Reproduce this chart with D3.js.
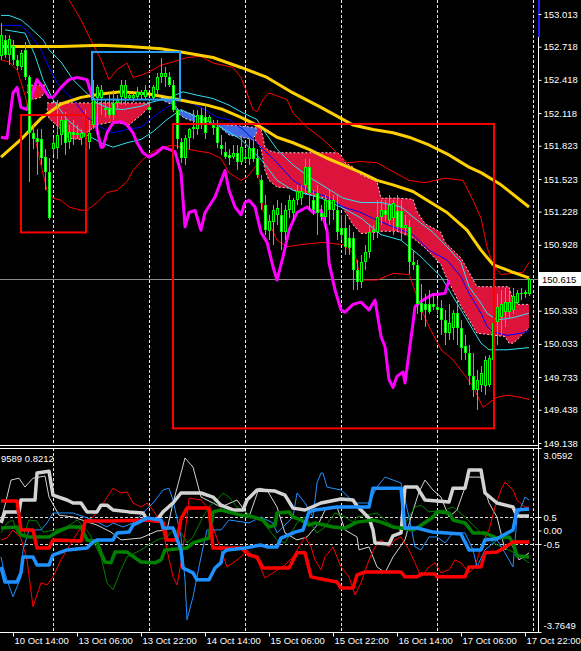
<!DOCTYPE html>
<html><head><meta charset="utf-8">
<script src="https://cdn.jsdelivr.net/npm/d3@7"></script>
<style>
html,body{margin:0;padding:0;background:#000;overflow:hidden}
svg{display:block}
text{font-family:"Liberation Sans",Arial,sans-serif}
</style></head><body>
<svg id="c" width="581" height="651"></svg>
<script>
// ---------- DATA ----------
const timeTickBars = [3,19,35,51,67,83,99,115,131];
const timeTickLabels = ["10 Oct 14:00","13 Oct 06:00","13 Oct 22:00","14 Oct 14:00","15 Oct 06:00","15 Oct 22:00","16 Oct 14:00","17 Oct 06:00","17 Oct 22:00"];
const gridBars = [13,37,61,85,109,133];
const priceTicks = [153.013,152.718,152.418,152.118,151.823,151.523,151.228,150.928,150.333,150.033,149.733,149.438,149.138];
const lastPrice = 150.615;
const subTicks = [3.0592,0.5,0,-0.5,-3.7649];
const subTickLabels = ["3.0592","0.5","0.00","-0.5","-3.7649"];
const subLevels = [0.5,-0.5];
const subTitle = "9589 0.8212";

// candles: [open, high, low, close]
const candles = [
[152.63,152.93,152.60,152.82],[152.78,152.82,152.62,152.64],[152.64,152.82,152.55,152.79],[152.72,152.78,152.55,152.60],
[152.60,152.64,152.51,152.54],[152.53,152.69,152.51,152.66],[152.69,152.76,152.42,152.44],[152.44,152.46,151.50,151.94],
[151.94,152.01,151.79,151.88],[151.89,151.97,151.56,151.86],[151.88,151.97,151.65,151.71],[151.72,151.79,151.42,151.59],
[151.59,151.71,151.15,151.17],[151.79,151.89,151.74,151.85],[151.80,152.24,151.70,151.92],[151.92,152.10,151.83,152.06],
[152.06,152.13,151.74,151.85],[151.86,152.01,151.79,151.95],[151.95,152.06,151.83,151.92],[151.92,152.01,151.88,151.94],
[151.89,151.97,151.83,151.94],[151.94,152.15,151.79,151.90],[151.86,152.06,151.79,151.94],[152.01,152.42,151.97,152.25],
[152.25,152.37,151.92,152.35],[152.25,152.37,152.10,152.33],[152.15,152.24,152.08,152.16],[152.16,152.28,152.07,152.10],
[152.21,152.33,152.06,152.10],[152.21,152.28,152.16,152.24],[152.26,152.42,152.19,152.37],[152.25,152.42,152.19,152.37],
[152.25,152.31,152.24,152.28],[152.25,152.30,152.22,152.28],[152.26,152.35,152.24,152.31],[152.28,152.33,152.24,152.31],
[152.26,152.37,152.24,152.33],[152.17,152.24,152.13,152.15],[152.25,152.37,152.24,152.35],[152.33,152.48,152.28,152.44],
[152.44,152.62,152.39,152.48],[152.44,152.53,152.35,152.48],[152.44,152.49,152.35,152.37],[152.37,152.42,152.13,152.15],
[152.15,152.16,151.79,151.88],[151.86,151.89,151.67,151.71],[151.71,151.92,151.65,151.89],[151.89,151.98,151.79,151.97],
[151.97,152.15,151.88,151.99],[151.97,152.15,151.92,152.10],[152.10,152.16,151.97,152.01],[152.08,152.19,151.88,151.94],
[152.04,152.10,152.01,152.08],[152.01,152.06,151.92,151.98],[151.99,152.06,151.80,151.85],[151.83,151.92,151.74,151.79],
[151.77,151.86,151.70,151.72],[151.74,151.79,151.65,151.71],[151.72,151.83,151.70,151.76],[151.76,151.83,151.60,151.68],
[151.68,151.92,151.65,151.81],[151.72,151.79,151.68,151.70],[151.70,151.88,151.65,151.80],[151.80,151.88,151.68,151.70],
[151.71,151.79,151.53,151.56],[151.51,151.56,151.24,151.31],[151.29,151.38,151.02,151.06],[151.05,151.20,150.97,151.14],
[151.13,151.29,150.93,151.24],[151.20,151.33,151.11,151.26],[151.20,151.31,150.88,151.04],[151.04,151.29,150.97,151.24],
[151.24,151.38,151.17,151.33],[151.22,151.35,151.14,151.33],[151.33,151.47,151.29,151.41],[151.35,151.47,151.29,151.41],
[151.47,151.70,151.38,151.63],[151.63,151.70,151.24,151.40],[151.33,151.42,151.20,151.24],[151.40,151.47,151.02,151.22],
[151.22,151.29,151.14,151.18],[151.18,151.38,151.06,151.33],[151.33,151.42,151.11,151.24],[151.24,151.38,151.15,151.33],
[151.24,151.38,150.97,151.04],[151.08,151.20,150.97,151.02],[151.08,151.20,150.84,150.91],[150.99,151.11,150.84,150.90],
[150.99,151.04,150.52,150.70],[150.70,150.79,150.52,150.59],[150.59,150.84,150.54,150.77],[150.77,150.93,150.70,150.86],
[150.86,151.11,150.81,151.04],[151.04,151.11,150.97,151.06],[151.04,151.33,150.99,151.18],[151.18,151.33,151.11,151.24],
[151.24,151.33,151.14,151.20],[151.15,151.38,151.11,151.29],[151.17,151.33,151.02,151.31],[151.23,151.38,151.05,151.09],
[151.23,151.33,150.97,151.08],[151.08,151.20,151.02,151.11],[151.09,151.15,150.66,150.77],[150.77,150.88,150.70,150.75],
[150.75,150.79,150.30,150.39],[150.40,150.57,150.25,150.32],[150.39,150.48,150.19,150.34],[150.39,150.52,150.30,150.32],
[150.39,150.48,150.34,150.37],[150.37,150.45,150.30,150.34],[150.36,150.43,150.11,150.25],[150.25,150.34,150.02,150.13],
[150.13,150.39,150.07,150.22],[150.18,150.34,150.07,150.31],[150.31,150.43,150.02,150.18],[150.18,150.25,149.89,150.00],
[150.01,150.11,149.89,149.95],[149.95,150.02,149.66,149.74],[149.74,149.95,149.55,149.62],[149.62,149.80,149.44,149.71],
[149.66,149.83,149.60,149.77],[149.65,149.92,149.57,149.89],[149.66,149.93,149.64,149.91],[149.89,150.27,149.84,150.22],
[150.23,150.48,150.02,150.37],[150.28,150.52,150.11,150.39],[150.32,150.54,150.19,150.41],[150.32,150.52,150.27,150.41],
[150.34,150.54,150.30,150.47],[150.40,150.52,150.39,150.49],[150.48,150.54,150.43,150.49],[150.48,150.52,150.45,150.50],
[150.48,150.63,150.47,150.615]
];

// main-window lines: [bar, price]
const yellowSlow = [[0,152.72],[7,152.72],[15,152.72],[25,152.73],[32,152.72],[40,152.70],[45,152.67],[53,152.62],[60,152.53],[66.5,152.44],[73,152.30],[80,152.17],[85,152.07],[88,152.01],[93,151.97],[98,151.94],[102,151.90],[107,151.83],[112,151.74],[117,151.63],[120,151.58],[125,151.47],[132,151.27]];
const yellowFast = [[0,151.72],[5,151.88],[10,152.07],[15,152.20],[20,152.26],[25,152.29],[30,152.31],[37,152.29],[43,152.25],[47,152.22],[51.5,152.19],[55.5,152.15],[60,152.08],[65,151.99],[69,151.90],[73,151.85],[77,151.79],[81.5,151.71],[85.5,151.65],[90,151.58],[94,151.51],[98,151.47],[103,151.41],[111.5,151.22],[116.5,151.06],[120,150.88],[123,150.75],[128,150.68],[132,150.63]];
const magenta = [[0,151.90],[1.5,151.89],[3,152.30],[4,152.35],[5,152.17],[6.5,152.15],[9,152.42],[10.5,152.35],[12,152.26],[13,152.26],[15,152.35],[17,152.42],[19,152.44],[21.5,152.42],[23,152.24],[24,151.97],[25,151.81],[25.5,151.81],[26.5,151.94],[28,152.03],[30,152.04],[31.5,152.01],[33,151.94],[34,151.85],[35.5,151.76],[37,151.72],[39,151.76],[40.5,151.81],[42,151.79],[43.5,151.77],[45,151.58],[46,151.09],[47,151.22],[48.5,151.24],[50,151.06],[51,151.22],[53.5,151.36],[56,151.60],[57,151.42],[58.5,151.27],[60,151.20],[61,151.31],[62,151.33],[63.5,151.27],[65,151.04],[66.5,150.95],[68,150.73],[69,150.61],[70.5,150.82],[72,151.06],[74,151.22],[76.5,151.27],[78,151.22],[80,151.24],[81.5,151.06],[82,150.77],[83.5,150.52],[85,150.34],[86,150.32],[88,150.39],[90,150.41],[92,150.34],[93.5,150.43],[95,150.10],[96,150.01],[97,149.71],[98,149.64],[99,149.74],[100.5,149.78],[101,149.68],[102,149.95],[103,150.22],[103.5,150.37],[105.5,150.43],[108,150.48],[109,150.48],[111,150.49],[112,150.61]];
const blueMid = [[0,152.91],[5,152.91],[7,152.84],[10,152.69],[12,152.53],[14,152.39],[15.5,152.33],[18,152.24],[21.5,152.08],[25,151.99],[28,151.94],[31.5,151.97],[35,151.99],[38,152.08],[41.5,152.17],[45,152.24],[47.5,152.21],[50,152.17],[54,152.08],[57,152.06],[60.5,151.97],[65,151.81],[69,151.67],[73,151.51],[77,151.42],[81.5,151.36],[85.5,151.27],[90,151.22],[94,151.15],[98,151.09],[103,151.02],[107,150.88],[111.5,150.79],[115,150.64],[117,150.49],[120,150.31],[121.5,150.19],[123,150.14],[126.5,150.11],[130,150.13],[132,150.15]];
const cyanUp = [[0,153.00],[2,153.00],[5,152.96],[7,152.90],[10.5,152.78],[12,152.69],[15,152.58],[18,152.42],[20.5,152.33],[24,152.21],[27,152.16],[30.5,152.15],[35,152.18],[38,152.22],[41.5,152.25],[45.5,152.31],[49,152.28],[53,152.25],[57,152.19],[60.5,152.12],[64,152.06],[65.5,151.97],[69,151.79],[73,151.65],[77,151.54],[81.5,151.44],[85.5,151.35],[90,151.31],[95,151.31],[100,151.27],[103,151.18],[108,151.04],[111.5,150.91],[115,150.77],[117,150.55],[120,150.40],[121.5,150.31],[124,150.25],[128,150.27],[132,150.31]];
const cyanLow = [[1,152.87],[6,152.84],[8.5,152.64],[10.5,152.42],[13,152.24],[16.5,152.06],[20.5,151.94],[25,151.85],[28,151.81],[31.5,151.85],[35,151.88],[38,151.95],[41.5,152.06],[45,152.15],[49,152.08],[54,152.01],[60,151.88],[65,151.70],[69,151.51],[73,151.42],[80,151.35],[85.5,151.26],[90,151.17],[95,151.02],[100,150.97],[105,150.82],[110,150.64],[114,150.40],[117,150.22],[120,150.04],[122,149.98],[126.5,149.98],[132,150.00]];
const redUp = [[15,153.28],[17,153.14],[20,152.96],[22,152.81],[25,152.60],[27,152.42],[29,152.51],[31.5,152.57],[33,152.44],[35,152.46],[37,152.49],[40,152.55],[43,152.58],[46.5,152.62],[50,152.63],[53,152.57],[58,152.53],[60,152.44],[61.5,152.30],[63,152.15],[64,152.13],[65.5,152.24],[67,152.30],[70,152.26],[71.5,152.24],[73,152.12],[76.5,151.99],[80.5,151.88],[86.5,151.67],[90,151.68],[94,151.67],[98,151.59],[102,151.51],[106,151.49],[111,151.53],[115.5,151.51],[118,151.33],[120,151.17],[121.5,150.91],[123,150.75],[125,150.66],[128,150.67],[130.5,150.68],[132,150.77]];
const redLow = [[0,152.60],[2,152.58],[4,152.51],[6,152.28],[8,151.97],[10,151.65],[11.5,151.42],[13,151.35],[15,151.33],[17,151.27],[20,151.24],[21.5,151.24],[24,151.31],[26.5,151.40],[29,151.42],[31.5,151.50],[33,151.60],[35.5,151.70],[38,151.77],[40.5,151.81],[43,151.83],[47,151.79],[50,151.77],[52,151.76],[55,151.71],[57,151.58],[60,151.51],[61.5,151.54],[64,151.65],[65,151.42],[65.5,151.24],[67,151.13],[69,150.97],[71.5,150.91],[75,150.93],[80.5,150.95],[85.5,150.93],[88.5,150.84],[90,150.61],[94,150.61],[98,150.67],[102,150.66],[105.5,150.31],[107,150.19],[110,149.98],[113,149.89],[115.5,149.77],[118,149.65],[120.5,149.46],[122,149.50],[124,149.55],[126.5,149.57],[130,149.55],[132,149.53]];

// clouds: [bar, upper, lower]
const pinkCloudA = [[6.5,152.37,152.31],[8,152.37,152.24],[10,152.37,152.26],[11,152.37,152.31]];
const pinkCloudB = [[11.5,152.21,152.16],[12,152.21,152.07],[15,152.21,151.97],[17,152.21,151.89],[20,152.21,151.88],[21,152.21,151.93],[24,152.21,152.01],[28,152.21,152.04],[32,152.21,152.01],[35,152.21,152.10],[37,152.21,152.17]];
const blueCloudA = [[40,152.26,152.24],[43,152.25,152.19],[44,152.15,152.12],[46,152.13,152.07],[48.5,152.10,152.04]];
const blueCloudB = [[54.5,152.02,152.00],[57,152.01,151.92],[63,151.99,151.88],[64,151.98,151.95]];
const pinkCloudC = [[63.5,152.01,151.88],[65,151.98,151.80],[66,151.81,151.60],[67,151.78,151.51],[69,151.76,151.45],[72,151.76,151.44],[75,151.76,151.40],[80,151.76,151.36],[84,151.76,151.31],[85,151.74,151.28],[86,151.67,151.23],[88,151.63,151.11],[90,151.56,151.03],[94,151.50,151.04],[95,151.35,151.05],[99,151.35,151.05],[103,151.34,150.99],[104,151.23,150.96],[106,151.12,150.90],[110,151.04,150.75],[111,150.95,150.66],[115,150.81,150.37],[117,150.68,150.25],[119,150.55,150.13],[126,150.55,150.10],[127,150.55,150.04],[128,150.43,150.04],[129,150.39,150.07],[132,150.39,150.18]];

// rectangles: [startBar, endBar, highPrice, lowPrice]
const redBoxes = [[5,21.25,152.10,151.04],[43,123.25,152.02,149.27]];
const blueBoxes = [[22.75,44.75,152.67,152.24]];

// sub-window series: [bar, value]
const subWhiteThick = [[0,0.28],[1,0.69],[4.5,0.69],[5,1.13],[8.5,1.13],[9,2.13],[12,2.20],[13,1.31],[16.5,1.13],[18,1.02],[20,1.02],[21.5,0.69],[24,0.69],[25,0.94],[26.5,0.94],[28,0.76],[32,0.69],[35.5,0.65],[36.5,0.39],[39,0.39],[40.5,0.69],[43,1.02],[45,1.39],[50,1.39],[53,1.24],[55,0.94],[58,0.76],[60.5,0.76],[61.5,1.13],[64,1.50],[68.5,1.46],[71,1.31],[73,0.83],[76,0.76],[80,1.02],[85,1.17],[88,1.13],[89,0.91],[92,0.46],[93,0.02],[93.5,-0.46],[97,-0.50],[98,-0.20],[100,-0.09],[101,1.61],[104,1.61],[106,1.13],[112,1.06],[113,1.57],[116,1.57],[117,2.24],[120,2.24],[121,1.39],[124,1.02],[128,0.87],[129,0.54],[132,0.54]];
const subRedThick = [[0,1.09],[4,1.09],[5,0.02],[8,0.02],[9,-0.65],[12,-0.65],[13,-0.35],[20,-0.39],[21,0.35],[27,0.35],[36.5,0.39],[40.5,0.31],[41.5,-0.35],[44,-0.35],[45,0.43],[46.5,0.83],[52,0.83],[53,-0.65],[60,-0.65],[62,-0.91],[64,-0.98],[65.5,-1.39],[72,-1.39],[74,-0.83],[76,-0.83],[77.5,-1.72],[81,-1.83],[84,-1.91],[85,-2.13],[88,-2.13],[89,-1.65],[91,-1.54],[100,-1.54],[101,-1.72],[104,-1.72],[105,-1.61],[108.5,-1.61],[109,-1.72],[116,-1.72],[117,-1.35],[120,-1.35],[121,-0.83],[124,-0.80],[128,-0.43],[132,-0.43]];
const subGreenThick = [[0,0.09],[4,0.13],[5,-0.17],[7,-0.24],[12,-0.24],[14,-0.06],[17,0.13],[20,0.13],[21.5,-0.35],[24,-0.43],[25,-0.83],[26,-1.17],[27.5,-1.20],[28.5,-0.80],[31.5,-0.80],[35,-1.17],[38.5,-1.20],[40,-1.09],[41,-0.72],[46.5,-0.65],[48,-0.46],[52,-0.28],[53,0.69],[55,0.76],[60,0.57],[63,0.50],[65.5,0.39],[67,0.13],[68.5,0.20],[69,0.65],[72,0.69],[73,0.50],[75,0.39],[77,0.20],[78.5,0.28],[83,0.13],[86,0.09],[89,0.31],[93,0.39],[95,0.31],[98,0.13],[100,0.09],[103,0.02],[104,0.09],[108,0.50],[109,0.69],[112,0.65],[113,0.39],[116,0.28],[118,-0.09],[121,-0.09],[124,-0.28],[127,-0.24],[128,-0.46],[129,-0.94],[132,-0.98]];
const subBlueThick = [[0,-1.35],[1,-1.91],[4,-1.91],[5,-1.57],[5.5,-0.98],[8,-0.98],[9,-1.28],[12,-1.28],[13,-0.91],[16.5,-0.72],[21.5,-0.65],[23,-0.43],[24,-0.35],[28,-0.35],[29,-0.09],[32,-0.06],[33,0.20],[36.5,0.46],[40,0.39],[40.5,0.09],[43,0.09],[45,-0.72],[45.5,-1.39],[48,-1.57],[49,-1.83],[52,-1.83],[53.5,-1.39],[55,-1.20],[55.5,-0.83],[56.5,-0.72],[61,-0.65],[65,-0.54],[66.5,-0.61],[69,-0.61],[70,-0.28],[73.5,-0.06],[75.5,0.02],[77,0.69],[78.5,0.76],[84,0.87],[92,0.87],[93,1.57],[100,1.57],[101,0.09],[104,0.09],[108,-0.06],[115,-0.13],[117,-0.72],[120,-0.72],[121,-0.35],[124,-0.31],[128,0.02],[129,0.76],[132,0.80]];
const subWhiteThin = [[0,0.39],[1,0.94],[2.5,1.87],[4.5,1.94],[6,1.61],[8,1.94],[11,2.02],[12,1.24],[14.5,0.57],[18,0.50],[24,0.20],[27.5,-0.06],[30,-0.35],[35,-0.28],[39,-0.02],[41.5,0.02],[43,1.02],[45,2.13],[46,2.69],[48,2.35],[50,1.24],[51.5,1.13],[55,0.87],[59,1.13],[62,0.50],[64.5,1.57],[66.5,1.50],[69,0.87],[71,-0.09],[74,-0.35],[76.5,-0.24],[79.5,0.28],[81,0.76],[84,0.87],[86,0.02],[89,-0.24],[89.5,-0.72],[92,-0.61],[94,-1.35],[96,-1.57],[98,-0.98],[101,-0.35],[102.5,0.50],[104.5,1.43],[106,1.87],[108,1.50],[110,1.24],[112,0.50],[114,0.76],[115.5,1.39],[117,1.98],[120,1.98],[122,1.02],[124,0.50],[126,-0.72],[127.5,-0.46],[129.5,-1.09],[132,-0.83]];
const subRedThin = [[0,-0.35],[1.5,-0.28],[3,0.02],[5,-0.28],[6.5,-1.09],[8,-2.83],[10,-1.94],[11.5,-2.02],[13,-1.72],[15,-1.09],[16.5,-0.72],[20,0.13],[23,0.50],[25,0.87],[26.5,1.24],[28,1.57],[30,1.39],[31.5,1.43],[33,1.02],[35,0.87],[36.5,1.02],[38,0.76],[40,0.28],[41.5,-0.72],[43,-1.72],[44,-2.02],[45,-1.20],[46.5,0.50],[47,1.20],[50,1.13],[51.5,0.87],[53,0.13],[55,-0.72],[56.5,-1.35],[58,-1.20],[60,-0.98],[61.5,-0.72],[64,-1.09],[66,-1.76],[68,-1.57],[71,-1.28],[73,-0.98],[74.5,-0.61],[76,-0.24],[77.5,-0.61],[78.5,-1.09],[80,-1.46],[81,-0.98],[83,-0.61],[85,-1.35],[87,-1.72],[88.5,-2.39],[90,-1.94],[92,-1.09],[93.5,-0.61],[95,-0.35],[97,-0.61],[98.5,-0.35],[100,-0.24],[102,-0.72],[103.5,-1.20],[105,-1.72],[107,-1.35],[108.5,-1.20],[110,-1.57],[112,-1.46],[113.5,-1.09],[115,-1.20],[117,-1.57],[118.5,-1.35],[120,-0.61],[122,0.02],[123.5,0.87],[125,1.50],[126,1.80],[128,1.50],[129,1.13],[131,0.87],[132,0.87]];
const subGreenThin = [[0,-0.09],[1.5,0.28],[3,0.39],[4,-0.09],[5.5,-0.24],[7,0.39],[9,0.35],[10.5,-0.06],[13.5,0.02],[16.5,0.13],[19,0.39],[22,-0.09],[25,-0.98],[26.5,-1.94],[28,-2.20],[30,-1.46],[31.5,-0.98],[35,-0.72],[39,-0.35],[41.5,-0.24],[43,0.02],[45,-0.06],[46.5,-0.46],[48,-0.24],[50.5,0.50],[52,0.87],[54,1.13],[55.5,1.39],[57,1.24],[59,0.87],[61.5,0.65],[65,0.39],[67,0.02],[69,-0.35],[71,-0.46],[74,0.28],[76,0.50],[78,0.13],[79,-0.09],[81,0.13],[83.5,0.65],[86,0.50],[88,0.31],[89,0.50],[94,0.65],[96,0.39],[98,0.13],[100,0.02],[102,0.50],[103.5,0.87],[105,0.94],[107,0.69],[111,0.76],[113,0.87],[116,0.50],[120,-0.09],[124,-0.54],[128.5,-0.83],[132,-1.20]];
const subBlueThin = [[0,-0.98],[0.5,-1.35],[1.5,-1.83],[3,-2.46],[5,-1.72],[5.5,-0.72],[7,0.02],[10,0.02],[11.5,0.28],[13,0.65],[18,0.65],[23,0.39],[26.5,0.13],[28,0.28],[30.5,0.13],[33,0.28],[35.5,0.65],[38,1.02],[40.5,1.50],[42,1.57],[43,1.13],[45,-0.24],[46,-1.83],[46.5,-3.31],[48,-2.46],[50,-0.98],[51.5,0.02],[55,0.02],[57,0.39],[62,0.28],[65,0.50],[68,0.28],[69,-0.09],[73,0.50],[74,1.39],[76,1.02],[78,0.50],[79,1.76],[80,2.13],[80.5,2.13],[81.5,1.61],[85,1.50],[88.5,1.02],[92,1.02],[94,1.61],[96,1.98],[100,1.76],[102,0.50],[103.5,-0.61],[105,-0.72],[107,-0.24],[109,-0.24],[111,-0.46],[113,-0.09],[116,-0.09],[118,-0.72],[119,-1.35],[121,-0.72],[124,-0.35],[126,-0.83],[128,-1.35],[129,0.50],[131,1.24],[132,1.13]];

// ---------- LAYOUT ----------
const W = 581, H = 651;
const axisX = 538, mainBot = 445, subTop = 448, subBot = 632;
const svg = d3.select('#c');
svg.append('rect').attr('width', W).attr('height', H).attr('fill', '#000');
const defs = svg.append('defs');
defs.append('clipPath').attr('id','cm').append('rect').attr('x',0).attr('y',0).attr('width',axisX).attr('height',mainBot);
defs.append('clipPath').attr('id','cs').append('rect').attr('x',0).attr('y',subTop).attr('width',axisX).attr('height',subBot-subTop);

const xs = d3.scaleLinear().domain([0,133]).range([1,533]);
const ys = d3.scaleLinear().domain([149.138,153.013]).range([443,14]);
const ss = d3.scaleLinear().domain([-3.7649,3.0592]).range([subBot,subTop]);

const px = v => Math.round(v) + 0.5;

// grid vertical dashed
const grid = svg.append('g');
gridBars.forEach(b => {
  grid.append('line').attr('x1',px(xs(b))).attr('x2',px(xs(b))).attr('y1',0).attr('y2',mainBot)
    .attr('stroke','#e8e8e8').attr('stroke-dasharray','3,2').attr('stroke-width',1);
  grid.append('line').attr('x1',px(xs(b))).attr('x2',px(xs(b))).attr('y1',subTop).attr('y2',subBot)
    .attr('stroke','#e8e8e8').attr('stroke-dasharray','3,2').attr('stroke-width',1);
});

// ---------- MAIN WINDOW ----------
const main = svg.append('g').attr('clip-path','url(#cm)');
main.append('line').attr('x1',0).attr('x2',axisX).attr('y1',px(ys(lastPrice))).attr('y2',px(ys(lastPrice)))
  .attr('stroke','#8a8a8a').attr('stroke-width',1);

const area = d3.area().x(d=>xs(d[0])).y0(d=>ys(d[2])).y1(d=>ys(d[1]));
const edgeTop = d3.line().x(d=>xs(d[0])).y(d=>ys(d[1]));
const edgeBot = d3.line().x(d=>xs(d[0])).y(d=>ys(d[2]));
function cloud(data, fill){
  main.append('path').datum(data).attr('d',area).attr('fill',fill);
  [edgeTop, edgeBot].forEach(g => main.append('path').datum(data).attr('d',g).attr('fill','none')
    .attr('stroke','#f2c8c8').attr('stroke-width',1).attr('stroke-dasharray','2,2'));
}
cloud(pinkCloudA,'#dc143c');
cloud(pinkCloudB,'#dc143c');
cloud(pinkCloudC,'#dc143c');
cloud(blueCloudA,'#4169e1');
cloud(blueCloudB,'#4169e1');

const ln = d3.line().x(d=>xs(d[0])).y(d=>ys(d[1]));
function drawLine(g, data, color, w){
  g.append('path').datum(data).attr('d',ln).attr('fill','none').attr('stroke',color)
    .attr('stroke-width',w).attr('stroke-linejoin','round');
}
drawLine(main, redUp, '#ff0000', 1);
drawLine(main, redLow, '#ff0000', 1);
drawLine(main, cyanUp, '#30e0f0', 1);
drawLine(main, cyanLow, '#30e0f0', 1);
drawLine(main, blueMid, '#0000ff', 1);
drawLine(main, yellowSlow, '#ffd000', 3);
drawLine(main, yellowFast, '#ffd000', 3);
drawLine(main, magenta, '#ff00ff', 3);

// candles
const gC = main.append('g').attr('shape-rendering','crispEdges');
candles.forEach((c,i) => {
  const cx = Math.round(xs(i));
  const [o,h,l,cl] = c;
  gC.append('line').attr('x1',cx+0.5).attr('x2',cx+0.5).attr('y1',ys(h)).attr('y2',ys(l)).attr('stroke','#00ff00');
  const top = Math.round(ys(Math.max(o,cl))), bot = Math.round(ys(Math.min(o,cl)));
  gC.append('rect').attr('x',cx-1).attr('y',top).attr('width',3).attr('height',Math.max(1,bot-top)).attr('fill','#00ff00');
  if (bot-top > 2) gC.append('rect').attr('x',cx).attr('y',top+1).attr('width',1).attr('height',bot-top-2)
    .attr('fill', cl < o ? '#ffffff' : '#000000');
});

// rectangles
function box(b, color){
  main.append('rect').attr('x',xs(b[0])).attr('y',ys(b[2])).attr('width',xs(b[1])-xs(b[0]))
    .attr('height',ys(b[3])-ys(b[2])).attr('fill','none').attr('stroke',color).attr('stroke-width',2);
}
redBoxes.forEach(b => box(b,'#ff0000'));
blueBoxes.forEach(b => box(b,'#2a9df4'));

// ---------- SUB WINDOW ----------
const sub = svg.append('g').attr('clip-path','url(#cs)');
subLevels.forEach(v => sub.append('line').attr('x1',0).attr('x2',axisX).attr('y1',px(ss(v))).attr('y2',px(ss(v)))
  .attr('stroke','#d8d8d8').attr('stroke-dasharray','3,2'));
const sl = d3.line().x(d=>xs(d[0])).y(d=>ss(d[1]));
function subLine(data,color,w){
  sub.append('path').datum(data).attr('d',sl).attr('fill','none').attr('stroke',color).attr('stroke-width',w).attr('stroke-linejoin','round');
}
subLine(subWhiteThin,'#d3d3d3',1);
subLine(subRedThin,'#ff0000',1);
subLine(subGreenThin,'#008000',1);
subLine(subBlueThin,'#1e90ff',1);
subLine(subWhiteThick,'#d3d3d3',3.5);
subLine(subGreenThick,'#008000',3.5);
subLine(subRedThick,'#ff0000',3.5);
subLine(subBlueThick,'#1e90ff',3.5);
svg.append('text').attr('x',1).attr('y',462).attr('fill','#fff').attr('font-size','9.5px').text(subTitle);

// ---------- FRAMES & AXES ----------
const frame = svg.append('g').attr('shape-rendering','crispEdges');
frame.append('line').attr('x1',0).attr('x2',axisX).attr('y1',mainBot+0.5).attr('y2',mainBot+0.5).attr('stroke','#fff');
frame.append('line').attr('x1',0).attr('x2',axisX).attr('y1',subTop+0.5).attr('y2',subTop+0.5).attr('stroke','#fff');
frame.append('line').attr('x1',0).attr('x2',axisX).attr('y1',subBot+0.5).attr('y2',subBot+0.5).attr('stroke','#fff');
frame.append('line').attr('x1',axisX+0.5).attr('x2',axisX+0.5).attr('y1',0).attr('y2',subBot+1).attr('stroke','#fff');
frame.append('rect').attr('x',axisX).attr('y',0).attr('width',2).attr('height',37).attr('fill','#1f1fff');

const pAxis = svg.append('g').attr('transform',`translate(${axisX+0.5},0)`)
  .call(d3.axisRight(ys).tickValues(priceTicks).tickFormat(d3.format('.3f')).tickSize(3));
const sAxis = svg.append('g').attr('transform',`translate(${axisX+0.5},0)`)
  .call(d3.axisRight(ss).tickValues(subTicks).tickFormat((d,i)=>subTickLabels[i]).tickSize(3));
const tAxis = svg.append('g').attr('transform',`translate(0,${subBot+0.5})`)
  .call(d3.axisBottom(xs).tickValues(timeTickBars).tickFormat((d,i)=>timeTickLabels[i]).tickSize(4));
[pAxis,sAxis,tAxis].forEach(a => {
  a.select('.domain').remove();
  a.selectAll('line').attr('stroke','#fff');
  a.selectAll('text').attr('fill','#fff').attr('font-size','9.5px').attr('font-family','"Liberation Sans",Arial,sans-serif');
});
pAxis.selectAll('text').attr('x',5);
sAxis.selectAll('text').attr('x',5);
sAxis.selectAll('.tick').filter(d=>d===3.0592).select('text').attr('dy','1.15em');
sAxis.selectAll('.tick').filter(d=>d===-3.7649).select('text').attr('dy','-0.35em');
tAxis.selectAll('text').attr('text-anchor','start').attr('x',1).attr('y',5);

// last price label
const ly = ys(lastPrice);
svg.append('rect').attr('x',axisX+1).attr('y',Math.round(ly)-7).attr('width',W-axisX-1).attr('height',14).attr('fill','#fff');
svg.append('text').attr('x',axisX+4).attr('y',ly).attr('dy','0.35em').attr('fill','#000').attr('font-size','9.5px').text(lastPrice.toFixed(3));
</script></body></html>
